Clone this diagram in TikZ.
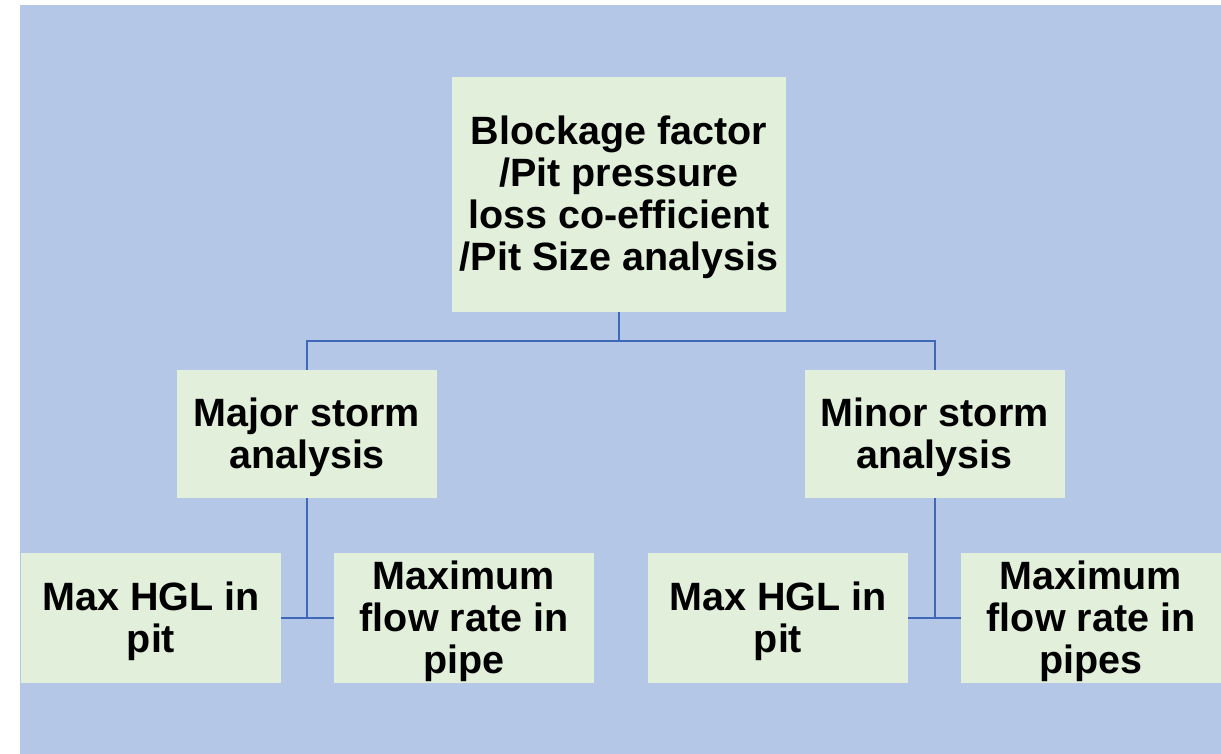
\documentclass[tikz,border=0pt]{standalone}
\usepackage{fontspec}
\setmainfont{Liberation Sans}
\definecolor{bgblue}{HTML}{B4C7E7}
\definecolor{boxgreen}{HTML}{E2EFDA}
\definecolor{linkblue}{HTML}{4068B8}
\tikzset{
  box/.style={fill=boxgreen, draw=none, align=center, inner sep=0pt,
    text depth=2pt, font=\fontsize{39.5}{42}\selectfont\bfseries},
  link/.style={draw=linkblue, line width=2pt}
}
\begin{document}
\begin{tikzpicture}[x=1pt,y=-1pt]
  \useasboundingbox (0,0) rectangle (1221,754);
  \fill[bgblue] (20,5) rectangle (1221,754);

  % top box
  \node[box, minimum width=334pt, minimum height=235pt] (top) at (619,194.5)
    {Blockage factor\\/Pit pressure\\loss co-efficient\\/Pit Size analysis};

  % storm boxes
  \node[box, minimum width=260pt, minimum height=128pt] (major) at (307,434)
    {Major storm\\analysis};
  \node[box, minimum width=260pt, minimum height=128pt] (minor) at (934.5,434)
    {Minor storm\\analysis};

  % result boxes
  \node[box, minimum width=260pt, minimum height=130pt] (hglL) at (151,618)
    {Max HGL in\\pit};
  \node[box, minimum width=260pt, minimum height=130pt] (flowL) at (464,618)
    {Maximum\\flow rate in\\pipe};
  \node[box, minimum width=260pt, minimum height=130pt] (hglR) at (778,618)
    {Max HGL in\\pit};
  \node[box, minimum width=260pt, minimum height=130pt] (flowR) at (1091,618)
    {Maximum\\flow rate in\\pipes};

  % connectors from the top box to the storm boxes
  \coordinate (fork) at (619,341);
  \draw[link] (top.south) -- (fork);
  \draw[link] (major.north) -- (major.north |- fork) -- (minor.north |- fork) -- (minor.north);

  % connectors from each storm box to its results
  \draw[link] (major.south) -- (major.south |- hglL.east);
  \draw[link] (hglL.east) -- (flowL.west);
  \draw[link] (minor.south) -- (minor.south |- hglR.east);
  \draw[link] (hglR.east) -- (flowR.west);
\end{tikzpicture}
\end{document}
